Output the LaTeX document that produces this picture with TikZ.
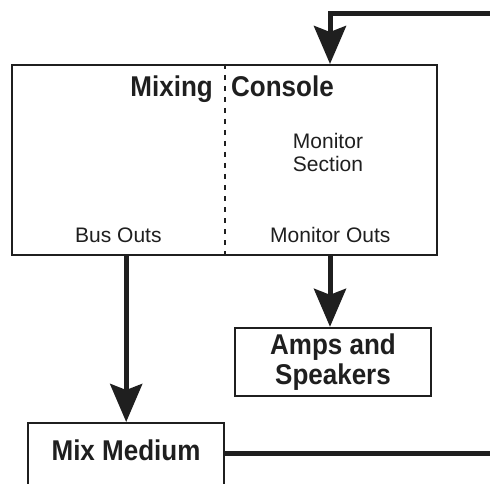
\documentclass[tikz,border=0pt]{standalone}
\usepackage{fontspec}
\usepackage{graphicx}
\setmainfont{Liberation Sans}
\usetikzlibrary{arrows.meta,calc}
\newcommand\bt[1]{\scalebox{1}[1.1]{\bfseries #1}}
\tikzset{
  boxline/.style={draw=black!88, line width=2.4pt},
  panel/.style={boxline, rectangle, inner sep=0pt},
  bigtxt/.style={font=\fontsize{26}{30.5}\selectfont, inner sep=0pt, text=black!88},
  smalltxt/.style={font=\fontsize{21}{23}\selectfont, inner sep=0pt, text=black!88},
  flow/.style={draw=black!88, line width=5pt, -{Stealth[length=38pt,width=32pt,inset=6pt]}},
  flowline/.style={draw=black!88, line width=5pt},
  divider/.style={draw=black!88, line width=2pt, dash pattern=on 5pt off 6pt}
}
\begin{document}
\begin{tikzpicture}[x=1pt,y=-1pt]
\clip (0,0) rectangle (490,484);
\fill[white] (0,0) rectangle (490,484);
% boxes
\node[panel, minimum width=425pt, minimum height=190pt, anchor=north west] (console) at (11,64) {};
\node[panel, minimum width=196pt, minimum height=68pt, bigtxt, align=center] (amps) at (333,362) {\bt{Amps and}\\\bt{Speakers}};
\node[panel, minimum width=196pt, minimum height=110pt, anchor=north west] (mix) at (27,422) {};
% texts
\node[bigtxt, anchor=base east] (mixing) at (213,97) {\bt{Mixing}};
\node[bigtxt, anchor=base west] (consoletxt) at (231,97) {\bt{Console}};
\node[smalltxt, align=center] (monsec) at (328,152) {Monitor\\Section};
\node[smalltxt, anchor=base west] (busouts) at (75,242) {Bus Outs};
\node[smalltxt, anchor=base west] (monouts) at (270,242) {Monitor Outs};
\node[bigtxt, anchor=base] (mixlabel) at (126,460) {\bt{Mix Medium}};
% divider
\draw[divider] ($(console.north)+(0.5,0)$) -- ($(console.south)+(0.5,0)$);
% coordinates
\coordinate (in) at (330,64);
\coordinate (fbR) at (495,14);
\coordinate (mixR) at (223,453);
\coordinate (mixEnd) at (495,453);
% connectors
\draw[flow] (fbR) -- (in |- fbR) -- (in);
\draw[flow] (in |- console.south) -- (in |- amps.north);
\draw[flow] (mix.north |- console.south) -- (mix.north);
\draw[flowline] (mixR) -- (mixEnd);
\end{tikzpicture}
\end{document}
